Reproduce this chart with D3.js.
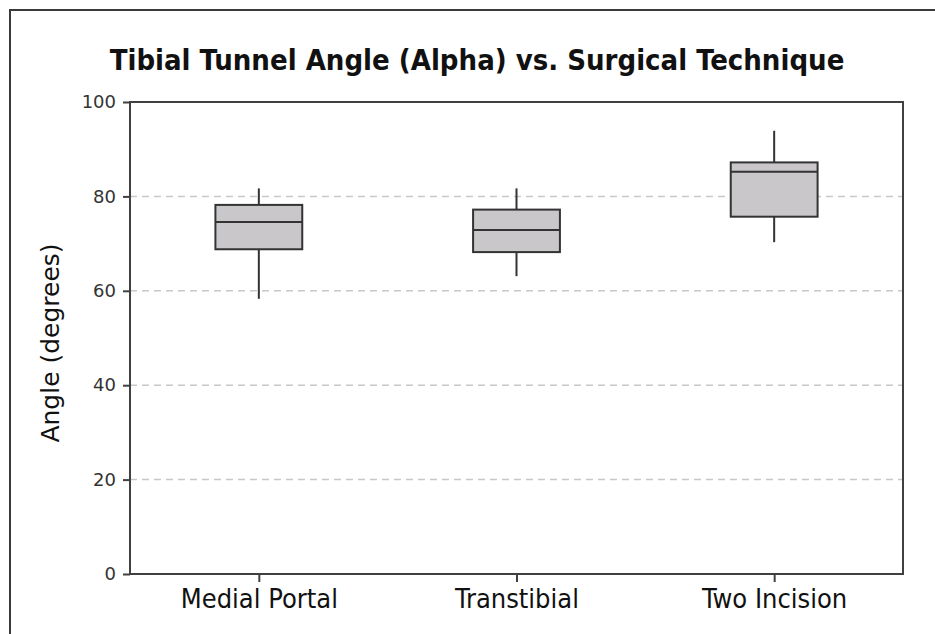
<!DOCTYPE html>
<html>
<head>
<meta charset="utf-8">
<script src="https://cdn.jsdelivr.net/npm/d3@7"></script>
<style>
  html, body { margin: 0; padding: 0; background: #fff; }
  svg { display: block; }
</style>
</head>
<body>
<svg id="chart" width="935" height="634"></svg>
<script>
// Surgical techniques and their five-number summaries (degrees)
const techniques = ["Medial Portal", "Transtibial", "Two Incision"];
const whiskerLow  = [58.3, 63.1, 70.3];
const quartile1   = [68.8, 68.2, 75.7];
const medians     = [74.6, 72.9, 85.2];
const quartile3   = [78.2, 77.2, 87.2];
const whiskerHigh = [81.7, 81.7, 93.9];
const yTicks = [0, 20, 40, 60, 80, 100];
const gridValues = [20, 40, 60, 80];

const svg = d3.select("#chart");
const margin = { left: 130, top: 102, right: 32, bottom: 60 };
const W = 935, H = 634;
const plotW = W - margin.left - margin.right;
const plotH = H - margin.top - margin.bottom;

// outer frame
svg.append("rect")
  .attr("x", 10).attr("y", 10)
  .attr("width", W + 20).attr("height", H + 20)
  .attr("fill", "none").attr("stroke", "#3a3a3a").attr("stroke-width", 2);

const g = svg.append("g").attr("transform", `translate(${margin.left},${margin.top})`);

const x = d3.scalePoint().domain(techniques).range([0, plotW]).padding(0.5);
const y = d3.scaleLinear().domain([0, 100]).range([plotH, 0]);
const boxW = x.step() * 0.337;

// dashed reference lines
g.append("g").selectAll("line").data(gridValues).join("line")
  .attr("x1", 0).attr("x2", plotW)
  .attr("y1", d => y(d)).attr("y2", d => y(d))
  .attr("stroke", "#c8c8c8").attr("stroke-width", 1.5)
  .attr("stroke-dasharray", "7,5");

// plot frame
g.append("rect")
  .attr("x", 0).attr("y", 0).attr("width", plotW).attr("height", plotH)
  .attr("fill", "none").attr("stroke", "#404040").attr("stroke-width", 2);

// axes
const yAxis = g.append("g")
  .call(d3.axisLeft(y).tickValues(yTicks).tickSize(7).tickPadding(7));
const xAxis = g.append("g").attr("transform", `translate(0,${plotH})`)
  .call(d3.axisBottom(x).tickSize(8).tickPadding(7));
[yAxis, xAxis].forEach(a => {
  a.select(".domain").remove();
  a.selectAll(".tick line").attr("stroke", "#404040").attr("stroke-width", 2);
});
yAxis.selectAll(".tick text")
  .attr("fill", "#333").style("font-family", "'DejaVu Sans', Verdana, sans-serif")
  .style("font-size", "18px");
xAxis.selectAll(".tick text")
  .attr("fill", "#111").style("font-family", "'DejaVu Sans Condensed', 'DejaVu Sans', sans-serif")
  .style("font-stretch", "condensed").style("font-size", "27px");

// box plots
const boxes = g.append("g").selectAll("g").data(techniques).join("g")
  .attr("transform", d => `translate(${x(d)},0)`);
boxes.append("line")
  .attr("y1", (d, i) => y(whiskerHigh[i])).attr("y2", (d, i) => y(quartile3[i]))
  .attr("stroke", "#333").attr("stroke-width", 2);
boxes.append("line")
  .attr("y1", (d, i) => y(quartile1[i])).attr("y2", (d, i) => y(whiskerLow[i]))
  .attr("stroke", "#333").attr("stroke-width", 2);
boxes.append("rect")
  .attr("x", -boxW / 2).attr("width", boxW)
  .attr("y", (d, i) => y(quartile3[i]))
  .attr("height", (d, i) => y(quartile1[i]) - y(quartile3[i]))
  .attr("fill", "#c9c7ca").attr("stroke", "#333").attr("stroke-width", 2);
boxes.append("line")
  .attr("x1", -boxW / 2).attr("x2", boxW / 2)
  .attr("y1", (d, i) => y(medians[i])).attr("y2", (d, i) => y(medians[i]))
  .attr("stroke", "#333").attr("stroke-width", 2);

// title
svg.append("text")
  .attr("x", 477).attr("y", 70).attr("text-anchor", "middle")
  .style("font-family", "'DejaVu Sans Condensed', 'DejaVu Sans', sans-serif")
  .style("font-stretch", "condensed").style("font-weight", "bold")
  .style("font-size", "29px").attr("fill", "#111")
  .text("Tibial Tunnel Angle (Alpha) vs. Surgical Technique");

// y-axis title
svg.append("text")
  .attr("transform", "translate(59,343) rotate(-90)")
  .attr("text-anchor", "middle")
  .style("font-family", "'DejaVu Sans', Verdana, sans-serif")
  .style("font-size", "25px").attr("fill", "#111")
  .text("Angle (degrees)");
</script>
</body>
</html>
